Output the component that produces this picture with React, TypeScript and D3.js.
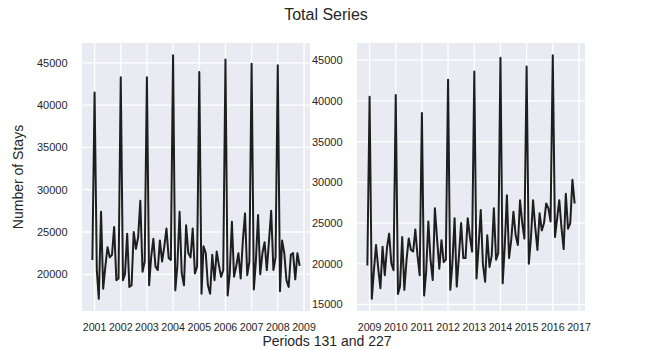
import React, { useRef, useEffect } from 'react';
import * as d3 from 'd3';

// monthly number of stays, first panel starts Dec 2000
const leftStays = [
  21700,
  41500, 20500, 17100, 27400, 18300, 21000, 23200, 22000, 22300, 25600, 19300, 19500,
  43300, 19300, 20000, 24800, 18500, 18700, 25000, 23000, 24400, 28700, 20300, 21500,
  43300, 18700, 22000, 24200, 20900, 20500, 24000, 21500, 23300, 25400, 21900, 21700,
  45900, 18100, 21000, 27400, 20100, 18700, 25800, 22500, 22000, 25400, 20100, 20900,
  43900, 17700, 23300, 22500, 18700, 17700, 22300, 19300, 22700, 21100, 19700, 20500,
  45400, 17500, 20000, 26200, 19700, 21000, 22500, 19500, 24000, 27200, 19900, 21500,
  44900, 18200, 21500, 27000, 20000, 22500, 23800, 20500, 24000, 27500, 20500, 22000,
  44700, 18000, 24000, 22500, 19300, 18500, 22300, 22500, 19400, 22500, 21000,
];

// second panel starts Dec 2008
const rightStays = [
  19800,
  40500, 15700, 19000, 22300, 19500, 17000, 22100, 18600, 22000, 23700, 20000, 19200,
  40700, 16300, 17200, 23300, 16800, 20500, 23100, 21700, 21500, 24200, 21000, 18600,
  38500, 16100, 19000, 25200, 20500, 18000, 26800, 23000, 19400, 22900, 20200, 20500,
  42600, 16800, 20000, 25600, 17200, 21000, 25000, 20700, 20700, 25600, 23300, 21500,
  43600, 18200, 22000, 26600, 20000, 17800, 23500, 19600, 21000, 26800, 20500, 21300,
  45300, 17600, 22000, 28400, 20700, 23000, 26400, 23500, 22300, 27800, 25000, 23100,
  44200, 20000, 23000, 27800, 24500, 21700, 26200, 24100, 25000, 27400, 26800, 25200,
  45600, 23300, 25500, 27800, 24500, 21800, 28600, 24300, 25000, 30300, 27400,
];

const leftStart = new Date(2000, 11, 1);
const rightStart = new Date(2008, 11, 1);
const leftYears = [2001, 2002, 2003, 2004, 2005, 2006, 2007, 2008, 2009];
const rightYears = [2009, 2010, 2011, 2012, 2013, 2014, 2015, 2016, 2017];
const yTicks = [15000, 20000, 25000, 30000, 35000, 40000, 45000];

const title = 'Total Series';
const xTitle = 'Periods 131 and 227';
const yTitle = 'Number of Stays';

const App = () => {
  const chartRef = useRef<SVGSVGElement>(null);

  useEffect(() => {
    const svg = d3.select(chartRef.current);
    svg.selectAll('*').remove();

    const font = '"Liberation Sans", Arial, sans-serif';
    const top = 43;
    const bottom = 311;

    const panels = [
      { values: leftStays, start: leftStart, years: leftYears, x0: 82, x1: 310 },
      { values: rightStays, start: rightStart, years: rightYears, x0: 357, x1: 585 },
    ];

    panels.forEach(p => {
      const dates = p.values.map((_, i) => d3.timeMonth.offset(p.start, i));
      const t0 = +dates[0];
      const t1 = +dates[dates.length - 1];
      const tp = (t1 - t0) * 0.05;
      const x = d3.scaleTime().domain([new Date(t0 - tp), new Date(t1 + tp)]).range([p.x0, p.x1]);

      // matplotlib-like 5% margins
      const lo = d3.min(p.values) as number;
      const hi = d3.max(p.values) as number;
      const vp = (hi - lo) * 0.05;
      const y = d3.scaleLinear().domain([lo - vp, hi + vp]).range([bottom, top]);

      const g = svg.append('g');

      g.append('rect')
        .attr('x', p.x0)
        .attr('y', top)
        .attr('width', p.x1 - p.x0)
        .attr('height', bottom - top)
        .attr('fill', '#eaeaf2');

      const yt = yTicks.filter(v => v >= y.domain()[0] && v <= y.domain()[1]);
      const xt = p.years.map(yr => new Date(yr, 0, 1)).filter(d => +d >= +x.domain()[0] && +d <= +x.domain()[1]);

      g.selectAll('.hgrid')
        .data(yt)
        .enter()
        .append('line')
        .attr('x1', p.x0)
        .attr('x2', p.x1)
        .attr('y1', d => y(d))
        .attr('y2', d => y(d))
        .attr('stroke', '#fff')
        .attr('stroke-width', 1.3);

      g.selectAll('.vgrid')
        .data(xt)
        .enter()
        .append('line')
        .attr('x1', d => x(d))
        .attr('x2', d => x(d))
        .attr('y1', top)
        .attr('y2', bottom)
        .attr('stroke', '#fff')
        .attr('stroke-width', 1.3);

      const line = d3
        .line<number>()
        .x((_, i) => x(dates[i]))
        .y(d => y(d));

      g.append('path')
        .datum(p.values)
        .attr('d', line)
        .attr('fill', 'none')
        .attr('stroke', '#1e1e1e')
        .attr('stroke-width', 2)
        .attr('stroke-linejoin', 'round');

      g.selectAll('.ylab')
        .data(yt)
        .enter()
        .append('text')
        .attr('x', p.x0 - 14.5)
        .attr('y', d => y(d))
        .attr('dy', '0.36em')
        .attr('text-anchor', 'end')
        .attr('font-family', font)
        .attr('font-size', 11)
        .attr('fill', '#262626')
        .text(d => String(d));

      g.selectAll('.xlab')
        .data(xt)
        .enter()
        .append('text')
        .attr('x', d => x(d))
        .attr('y', 330.5)
        .attr('text-anchor', 'middle')
        .attr('font-family', font)
        .attr('font-size', 10.6)
        .attr('fill', '#262626')
        .text(d => d3.timeFormat('%Y')(d));
    });

    svg.append('text')
      .attr('x', 326)
      .attr('y', 20)
      .attr('text-anchor', 'middle')
      .attr('font-family', font)
      .attr('font-size', 16)
      .attr('fill', '#262626')
      .text(title);

    svg.append('text')
      .attr('x', 327)
      .attr('y', 346)
      .attr('text-anchor', 'middle')
      .attr('font-family', font)
      .attr('font-size', 14)
      .attr('fill', '#262626')
      .text(xTitle);

    svg.append('text')
      .attr('transform', 'translate(23,177) rotate(-90)')
      .attr('text-anchor', 'middle')
      .attr('font-family', font)
      .attr('font-size', 14)
      .attr('fill', '#262626')
      .text(yTitle);
  }, []);

  return (
    <svg
      ref={chartRef}
      width={650}
      height={350}
      style={{ position: 'absolute', left: 0, top: 0, background: '#fff' }}
    />
  );
};

export default App;
